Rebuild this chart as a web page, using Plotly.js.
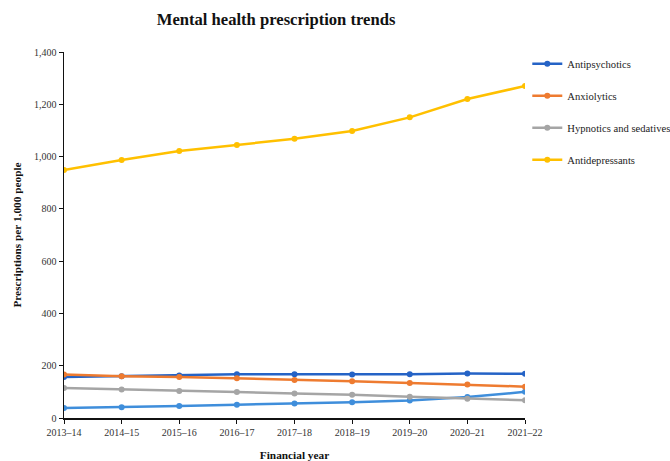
<!DOCTYPE html>
<html>
<head>
<meta charset="utf-8">
<script src="https://cdn.plot.ly/plotly-3.0.1.min.js"></script>
<style>
  html, body { margin: 0; padding: 0; background: #fff; }
  #chart { width: 670px; height: 461px; }
</style>
</head>
<body>
<div id="chart"></div>
<script>
// Financial years on the x axis
const years = ['2013–14', '2014–15', '2015–16', '2016–17', '2017–18', '2018–19', '2019–20', '2020–21', '2021–22'];

// Prescriptions per 1,000 people
const antipsychotics = [157, 160, 163, 167, 167, 166, 167, 170, 169];
const anxiolytics = [166, 160, 157, 152, 145, 141, 134, 128, 120];
const hypnotics = [115, 109, 103, 99, 94, 89, 81, 74, 68];
const antidepressants = [949, 987, 1021, 1044, 1068, 1098, 1150, 1220, 1270];
const unlabelled = [38, 41, 46, 51, 55, 60, 67, 80, 100];

const serif = "'Liberation Serif', 'Times New Roman', serif";

function series(name, values, color, group, show) {
  return {
    x: years, y: values, name: name, type: 'scatter', mode: 'lines+markers',
    line: { color: color, width: 2.5 },
    marker: { color: color, size: 6 },
    legendgroup: group, showlegend: show
  };
}

const data = [
  series('', unlabelled, '#3f8edb', 'g0', false),
  series('Antipsychotics', antipsychotics, '#2563c6', 'g1', true),
  series('Anxiolytics', anxiolytics, '#ee7b30', 'g2', true),
  series('Hypnotics and sedatives', hypnotics, '#a5a5a5', 'g3', true),
  series('Antidepressants', antidepressants, '#ffc000', 'g4', true)
];

const layout = {
  width: 670, height: 461,
  margin: { l: 64, r: 145, t: 52, b: 43 },
  paper_bgcolor: '#fff', plot_bgcolor: '#fff',
  font: { family: serif, color: '#222', size: 10 },
  title: {
    text: '<b>Mental health prescription trends</b>',
    font: { family: serif, size: 16.6, color: '#111' },
    x: 0.46, xanchor: 'center', y: 0.958, yanchor: 'middle', xref: 'paper'
  },
  xaxis: {
    type: 'category', range: [0, 8],
    showgrid: false, zeroline: false,
    showline: true, linecolor: '#111', linewidth: 1.5,
    ticks: 'outside', ticklen: 4, tickcolor: '#111',
    tickfont: { family: serif, size: 10, color: '#333' },
    title: { text: '<b>Financial year</b>', font: { family: serif, size: 11.3, color: '#111' }, standoff: 19 },
    automargin: false
  },
  yaxis: {
    range: [0, 1400], dtick: 200, tickformat: ',',
    showgrid: false, zeroline: false,
    showline: true, linecolor: '#111', linewidth: 1.5,
    ticks: 'outside', ticklen: 4, tickcolor: '#111',
    tickfont: { family: serif, size: 10, color: '#333' },
    title: { text: '<b>Prescriptions per 1,000 people</b>', font: { family: serif, size: 11.3, color: '#111' }, standoff: 10 },
    automargin: false
  },
  legend: {
    xref: 'container', yref: 'container',
    x: 0.787, xanchor: 'left', y: 0.893, yanchor: 'top',
    traceorder: 'grouped', tracegroupgap: 13,
    font: { family: serif, size: 10.6, color: '#222' },
    itemwidth: 30, bgcolor: 'rgba(0,0,0,0)'
  },
  showlegend: true
};

Plotly.newPlot('chart', data, layout, { displayModeBar: false, staticPlot: true });
</script>
</body>
</html>
